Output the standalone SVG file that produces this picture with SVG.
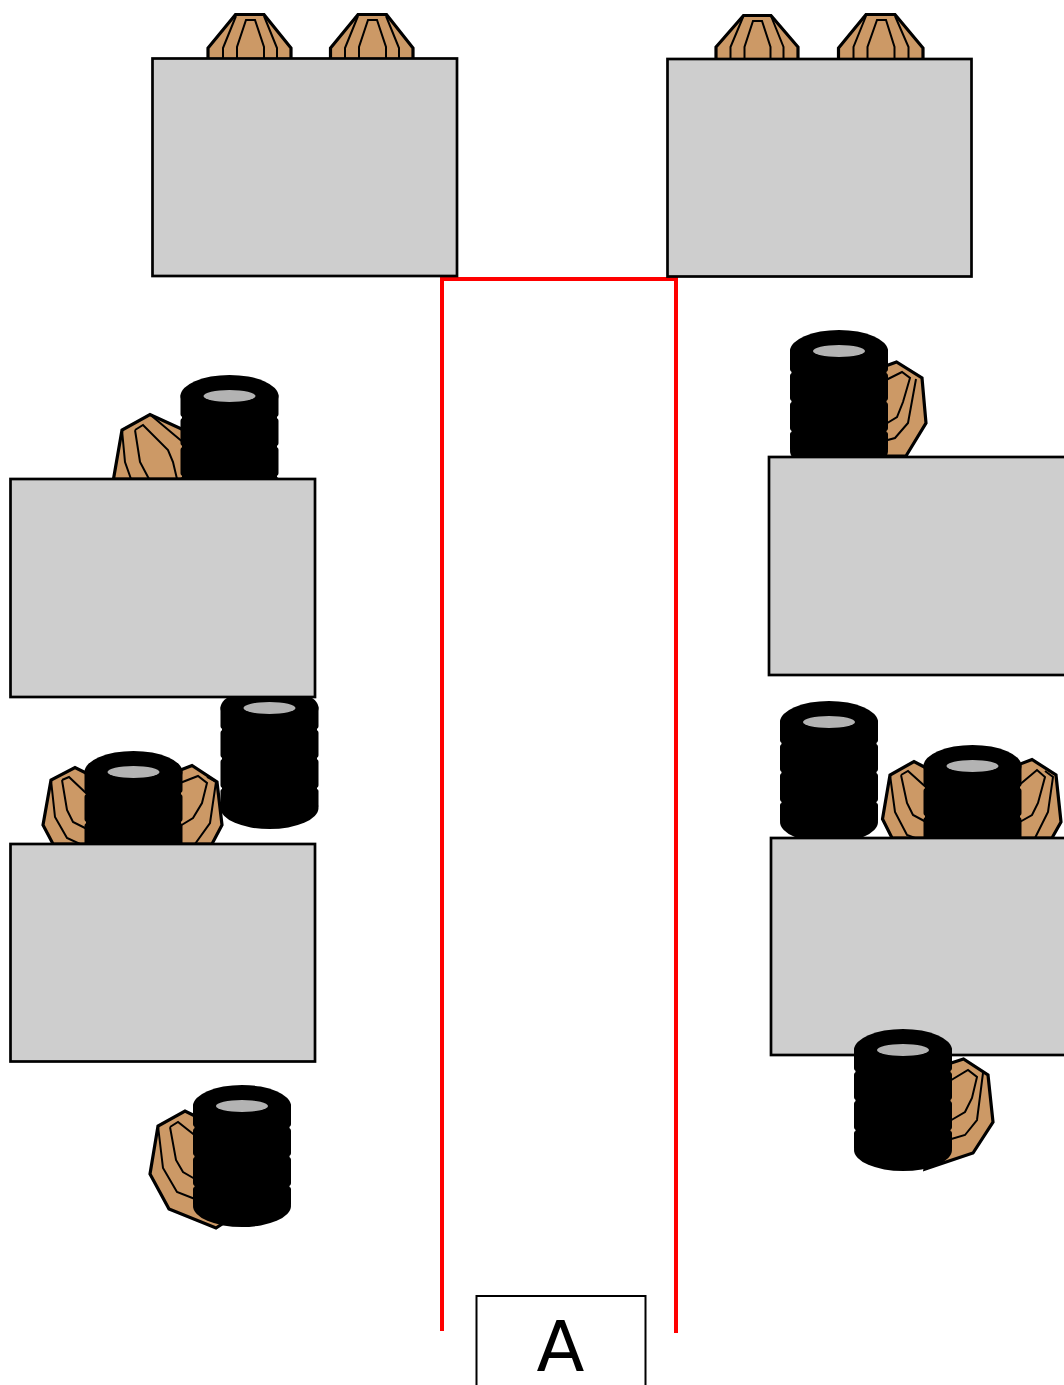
<svg xmlns="http://www.w3.org/2000/svg" width="1064" height="1385" viewBox="0 0 1064 1385">
<style>
.seat{fill:#cc9966;stroke:#000;stroke-width:3.200;stroke-linejoin:miter}
.rib{fill:none;stroke:#000;stroke-width:2;stroke-linejoin:miter}
.desk{fill:#cecece;stroke:#000;stroke-width:2.700}
.tyre{fill:#000}
.hole{fill:#b3b3b3}
.wall{fill:none;stroke:#f00;stroke-width:4}
.door{fill:#fff;stroke:#000;stroke-width:2}
.label{font-family:"DejaVu Sans",sans-serif;font-size:70px;fill:#000;text-anchor:middle}
</style>
<defs>
<g id="stack">
<ellipse class="tyre" cx="0" cy="0" rx="49" ry="21"/>
<rect class="tyre" x="-49" y="-3" width="98" height="24" rx="3"/>
<rect class="tyre" x="-49" y="22" width="98" height="28" rx="3"/>
<rect class="tyre" x="-49" y="51" width="98" height="29" rx="3"/>
<rect class="tyre" x="-49" y="81" width="98" height="19" rx="2"/>
<rect class="tyre" x="-47.500" y="10" width="95" height="90"/>
<ellipse class="tyre" cx="0" cy="100" rx="49" ry="21"/>
<ellipse class="hole" cx="0" cy="0" rx="26" ry="6"/>
</g>
</defs>
<g id="wall"><path class="wall" d="M442 1331V279H676V1333"/></g>
<g id="top-left-seats">
<path class="seat" d="M208 58V48L235.500 14.500H264L291 48V58"/>
<path class="rib" d="M223 58V48L236 16M237 58V47L246 20H255L264 47V58M277 58V48L264 16"/>
<path class="seat" d="M330.500 58V48L358 14.500H386.500L413 48V58"/>
<path class="rib" d="M345 58V48L358 16M359 58V47L368 20H377L386 47V58M399 58V48L386 16"/>
</g>
<g id="top-left-desk"><rect class="desk" x="152.500" y="58.500" width="304.500" height="217.500"/></g>
<g id="top-right-seats">
<path class="seat" d="M716 58V47L743.500 15.500H771L798 47V58"/>
<path class="rib" d="M730.500 58V47L743.500 16M744.500 58V47L753 21H762L770.500 47V58M783.500 58V47L771 16"/>
<path class="seat" d="M838.500 58V48L866 14.500H895L923 48V58"/>
<path class="rib" d="M853.500 58V47L866 16M867.500 58V47L877 20H886L894.500 47V58M908.500 58V47L895 16"/>
</g>
<g id="top-right-desk"><rect class="desk" x="667.500" y="59" width="304" height="217.500"/></g>
<g id="mid-left-chair">
<path class="seat" d="M113.500 479L122 430L150 414.500L186 431V479Z"/>
<path class="rib" d="M122 430L125 462L131 479M150 414.500L172 433L184 443M135 430L143 425L168 450L173 462L177 479M135 430L140 462L149 479"/>
<use href="#stack" x="229.500" y="396"/>
</g>
<g id="low-right-stack-left"><use href="#stack" x="269.500" y="708"/></g>
<g id="mid-left-desk"><rect class="desk" x="10.500" y="479" width="304.500" height="218"/></g>
<g id="low-left-chairs">
<path class="seat" d="M90 775L75 767.500L51 780L43 825L53 844H90Z"/>
<path class="rib" d="M51 780L55 817L67 838L80 844M62 780L69 777L87 794M62 780L67 810L73 822L87 829"/>
<path class="seat" d="M178 771L192 765.500L217 782L222 825L212 844H178Z"/>
<path class="rib" d="M207 777L216 782L210 823L195 844M180 783L198 776L207 783L202 803L193 818L180 826"/>
<use href="#stack" x="133.500" y="772"/>
</g>
<g id="low-left-desk"><rect class="desk" x="10.500" y="844" width="304.500" height="217.500"/></g>
<g id="bottom-left-chair">
<path class="seat" d="M195 1116L185 1111L158 1126L150 1174L169 1209L216 1228L225 1222Z"/>
<path class="rib" d="M158 1126L163 1168L177 1192L195 1199M170 1127L178 1122L197 1137M170 1127L176 1160L183 1172L195 1179"/>
<use href="#stack" x="242" y="1106"/>
</g>
<g id="mid-right-chair">
<path class="seat" d="M880 368L896.500 362L922 378L926 423L906 456H880Z"/>
<path class="rib" d="M884 381L902 372L910 378L903 402L897 417L884 425M916 379L908 423L895 438L884 441"/>
<use href="#stack" x="839" y="351"/>
</g>
<g id="mid-right-desk"><rect class="desk" x="769" y="457" width="300" height="218"/></g>
<g id="low-right-chairs">
<path class="seat" d="M930 770L914 761.500L890 775L882.500 819L892 838H930Z"/>
<path class="rib" d="M890 775L895 812L907 835L915 838M901 775L908 771L928 789M901 775L907 803L913 815L928 823"/>
<path class="seat" d="M1015 766L1032 759.500L1056 775L1061 822L1052 838H1015Z"/>
<path class="rib" d="M1045 771L1053 777L1048 812L1035 838M1018 786L1037 770L1045 777L1038 803L1032 815L1018 823"/>
<use href="#stack" x="829" y="722"/>
<use href="#stack" x="972.500" y="766"/>
</g>
<g id="low-right-desk"><rect class="desk" x="771" y="838" width="300" height="217"/></g>
<g id="bottom-right-chair">
<path class="seat" d="M945 1065L963.500 1059L988 1075L993 1122L973 1153L925 1169Z"/>
<path class="rib" d="M948 1082L968 1070L977 1077L972 1098L965 1112L948 1122M983 1073L977 1120L965 1135L948 1140"/>
<use href="#stack" x="903" y="1050"/>
</g>
<g id="door">
<rect class="door" x="476.500" y="1296" width="169" height="100"/>
<text class="label" x="560.500" y="1371">A</text>
</g>
</svg>
